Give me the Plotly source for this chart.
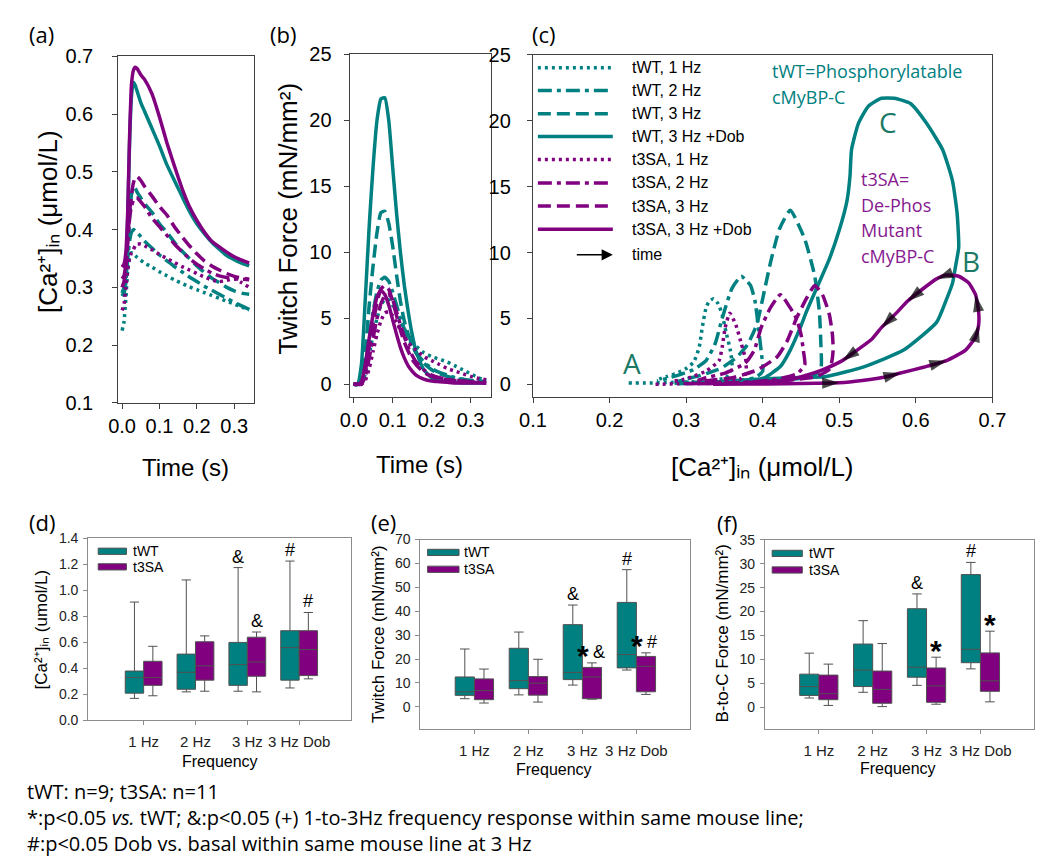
import plotly.graph_objects as go

W, H = 1050, 856


def px(x):
    return x / W


def py(y):
    return 1 - y / H


TEAL = "#008080"
PURPLE = "#800080"
LETTER = "#1b7a66"
AX = "Arial, 'Liberation Sans', sans-serif"
CAL = "'Open Sans', 'Noto Sans', sans-serif"

# ---------------- (a) calcium transients ----------------
t_ca = [0.000, 0.005, 0.010, 0.015, 0.020, 0.025, 0.030, 0.035, 0.040, 0.050, 0.060, 0.080, 0.100,
        0.120, 0.140, 0.160, 0.180, 0.200, 0.220, 0.240, 0.260, 0.280, 0.300, 0.320, 0.340]
ca_tWT_1Hz = [0.225, 0.24, 0.28, 0.33, 0.355, 0.36, 0.358, 0.355, 0.352, 0.347, 0.342, 0.335, 0.327,
              0.32, 0.313, 0.307, 0.301, 0.296, 0.291, 0.286, 0.281, 0.276, 0.271, 0.266, 0.261]
ca_tWT_2Hz = [0.285, 0.29, 0.31, 0.35, 0.38, 0.395, 0.40, 0.398, 0.395, 0.388, 0.38, 0.368, 0.356,
              0.346, 0.336, 0.327, 0.318, 0.31, 0.302, 0.295, 0.288, 0.281, 0.274, 0.268, 0.262]
ca_tWT_3Hz = [0.285, 0.29, 0.31, 0.36, 0.42, 0.46, 0.475, 0.472, 0.465, 0.455, 0.445, 0.43, 0.41,
              0.395, 0.378, 0.363, 0.35, 0.337, 0.326, 0.316, 0.308, 0.30, 0.294, 0.29, 0.288]
ca_tWT_dob = [0.29, 0.30, 0.33, 0.42, 0.55, 0.63, 0.655, 0.65, 0.64, 0.62, 0.605, 0.575, 0.545,
              0.512, 0.485, 0.458, 0.432, 0.41, 0.393, 0.378, 0.366, 0.355, 0.348, 0.342, 0.337]
ca_t3SA_1Hz = [0.26, 0.27, 0.30, 0.33, 0.35, 0.36, 0.365, 0.372, 0.375, 0.375, 0.372, 0.365, 0.357,
               0.35, 0.343, 0.336, 0.33, 0.324, 0.318, 0.313, 0.31, 0.312, 0.315, 0.308, 0.30]
ca_t3SA_2Hz = [0.315, 0.32, 0.34, 0.38, 0.42, 0.44, 0.45, 0.455, 0.455, 0.448, 0.44, 0.42, 0.405,
               0.39, 0.375, 0.362, 0.35, 0.34, 0.332, 0.325, 0.32, 0.317, 0.315, 0.314, 0.313]
ca_t3SA_3Hz = [0.30, 0.31, 0.33, 0.38, 0.43, 0.46, 0.48, 0.49, 0.492, 0.485, 0.475, 0.458, 0.44,
               0.425, 0.405, 0.388, 0.372, 0.358, 0.346, 0.337, 0.33, 0.324, 0.319, 0.316, 0.314]
ca_t3SA_dob = [0.335, 0.34, 0.36, 0.43, 0.56, 0.65, 0.675, 0.681, 0.679, 0.668, 0.66, 0.635, 0.595,
               0.55, 0.51, 0.472, 0.44, 0.416, 0.396, 0.38, 0.37, 0.361, 0.353, 0.347, 0.342]

# ---------------- (b) twitch force ----------------
t_f = [0.00, 0.01, 0.02, 0.03, 0.04, 0.05, 0.06, 0.07, 0.08, 0.09, 0.10, 0.11, 0.12, 0.13, 0.14,
       0.15, 0.16, 0.18, 0.20, 0.22, 0.24, 0.26, 0.28, 0.30, 0.32, 0.34]
f_tWT_1Hz = [0, 0, 0.1, 0.8, 2.2, 3.8, 5.0, 6.0, 6.4, 6.4, 6.0, 5.4, 4.8, 4.2, 3.7, 3.3, 2.9, 2.4,
             2.1, 1.9, 1.7, 1.4, 1.1, 0.8, 0.5, 0.3]
f_tWT_2Hz = [0, 0, 0.2, 1.5, 3.5, 5.5, 7.0, 7.9, 8.1, 7.8, 7.0, 6.0, 5.0, 4.2, 3.5, 2.9, 2.4, 1.7,
             1.2, 0.9, 0.7, 0.5, 0.4, 0.3, 0.25, 0.2]
f_tWT_3Hz = [0, 0, 0.3, 2.5, 6.0, 9.0, 11.5, 13.0, 13.1, 12.2, 10.5, 8.3, 6.3, 4.8, 3.8, 3.0, 2.4,
             1.6, 1.1, 0.8, 0.6, 0.45, 0.35, 0.3, 0.25, 0.2]
f_tWT_dob = [0, 0, 1.5, 6.5, 12.0, 16.5, 20.0, 21.6, 21.7, 20.0, 16.5, 13.0, 10.0, 7.5, 5.5, 3.8,
             2.5, 1.1, 0.5, 0.3, 0.2, 0.15, 0.1, 0.1, 0.1, 0.1]
f_t3SA_1Hz = [0, 0, 0, 0.3, 1.2, 2.5, 3.8, 4.8, 5.4, 5.5, 5.2, 4.7, 4.1, 3.6, 3.2, 2.8, 2.6, 2.1,
              1.8, 1.5, 1.2, 1.0, 0.8, 0.6, 0.45, 0.35]
f_t3SA_2Hz = [0, 0, 0, 0.6, 2.0, 3.5, 5.0, 6.1, 6.7, 6.8, 6.4, 5.5, 4.5, 3.6, 2.8, 2.2, 1.7, 1.1,
              0.7, 0.5, 0.4, 0.3, 0.25, 0.2, 0.15, 0.1]
f_t3SA_3Hz = [0, 0, 0.1, 1.0, 2.8, 4.6, 6.2, 7.2, 7.5, 7.2, 6.3, 5.2, 4.1, 3.2, 2.5, 1.9, 1.5, 0.9,
              0.6, 0.45, 0.35, 0.3, 0.25, 0.2, 0.15, 0.1]
f_t3SA_dob = [0, 0, 0.2, 1.5, 3.5, 5.3, 6.6, 7.1, 6.8, 6.0, 4.9, 3.8, 2.8, 2.0, 1.4, 1.0, 0.7, 0.4,
              0.25, 0.2, 0.15, 0.1, 0.1, 0.1, 0.1, 0.1]

# ---------------- (c) force-calcium loops ----------------
loop_ca_tWT_1Hz = [0.225, 0.25, 0.28, 0.31, 0.335, 0.352, 0.36, 0.358, 0.352, 0.347, 0.342, 0.336,
                   0.33, 0.326, 0.321, 0.317, 0.31, 0.30, 0.29, 0.275, 0.26]
loop_f_tWT_1Hz = [0.1, 0.1, 0.15, 0.2, 0.3, 0.5, 1.2, 2.5, 4.0, 5.3, 6.1, 6.5, 6.3, 5.8, 4.3, 2.8,
                  1.7, 1.2, 0.9, 0.6, 0.3]
loop_ca_tWT_2Hz = [0.285, 0.31, 0.34, 0.37, 0.39, 0.40, 0.398, 0.394, 0.39, 0.384, 0.372, 0.36,
                   0.347, 0.338, 0.326, 0.309, 0.29, 0.275, 0.262]
loop_f_tWT_2Hz = [0.1, 0.15, 0.2, 0.3, 0.5, 1.0, 2.5, 4.5, 6.3, 7.5, 8.2, 7.3, 5.0, 3.1, 1.8, 1.1,
                  0.7, 0.45, 0.25]
loop_ca_tWT_3Hz = [0.285, 0.32, 0.36, 0.40, 0.44, 0.465, 0.476, 0.476, 0.474, 0.468, 0.455, 0.436,
                   0.422, 0.41, 0.40, 0.392, 0.38, 0.365, 0.345, 0.32, 0.30, 0.288]
loop_f_tWT_3Hz = [0.1, 0.15, 0.2, 0.3, 0.4, 0.6, 1.2, 3.0, 5.5, 8.2, 11.0, 13.2, 11.8, 9.2, 6.5,
                  4.5, 3.0, 2.0, 1.2, 0.7, 0.4, 0.2]
loop_ca_tWT_dob = [0.29, 0.33, 0.385, 0.44, 0.4825, 0.533, 0.584, 0.627, 0.639, 0.648, 0.652, 0.656,
                   0.654, 0.648, 0.635, 0.614, 0.593, 0.572, 0.555, 0.538, 0.525, 0.516, 0.514, 0.51,
                   0.50, 0.487, 0.472, 0.457, 0.449, 0.436, 0.423, 0.402, 0.381, 0.36, 0.34]
loop_f_tWT_dob = [0.05, 0.15, 0.37, 0.5, 0.6, 1.35, 2.6, 4.7, 6.3, 7.7, 9.0, 10.4, 12.9, 15.4, 17.8,
                  19.8, 21.3, 21.7, 21.7, 21.1, 19.8, 17.8, 15.8, 13.9, 11.7, 9.5, 7.5, 5.5, 4.3,
                  2.6, 1.35, 0.5, 0.25, 0.1, 0.05]
loop_ca_t3SA_1Hz = [0.26, 0.29, 0.32, 0.35, 0.37, 0.378, 0.378, 0.372, 0.365, 0.357, 0.351, 0.347,
                    0.343, 0.326, 0.309, 0.295, 0.285]
loop_f_t3SA_1Hz = [0.0, 0.05, 0.1, 0.2, 0.4, 0.8, 1.8, 3.1, 4.5, 5.4, 4.3, 2.8, 1.8, 1.0, 0.6, 0.35,
                   0.25]
loop_ca_t3SA_2Hz = [0.315, 0.35, 0.39, 0.42, 0.445, 0.455, 0.453, 0.45, 0.444, 0.436, 0.423, 0.41,
                    0.398, 0.389, 0.377, 0.351, 0.326, 0.315]
loop_f_t3SA_2Hz = [0.05, 0.1, 0.2, 0.4, 0.8, 1.5, 2.6, 3.8, 5.0, 5.8, 6.8, 5.8, 4.3, 2.6, 1.6, 0.86,
                   0.5, 0.3]
loop_ca_t3SA_3Hz = [0.30, 0.35, 0.40, 0.44, 0.47, 0.488, 0.492, 0.491, 0.487, 0.478, 0.468, 0.457,
                    0.444, 0.432, 0.419, 0.393, 0.36, 0.33, 0.315]
loop_f_t3SA_3Hz = [0.05, 0.1, 0.2, 0.35, 0.6, 1.2, 2.6, 3.8, 5.3, 6.8, 7.5, 6.5, 5.0, 3.3, 2.1, 1.1,
                   0.5, 0.3, 0.2]
loop_ca_t3SA_dob = [0.335, 0.38, 0.43, 0.47, 0.50, 0.53, 0.563, 0.58, 0.61, 0.64, 0.665, 0.678,
                    0.682, 0.682, 0.678, 0.669, 0.656, 0.64, 0.627, 0.606, 0.589, 0.576, 0.555,
                    0.542, 0.521, 0.504, 0.478, 0.455, 0.436, 0.41, 0.393, 0.37, 0.351, 0.34]
loop_f_t3SA_dob = [0.0, 0.02, 0.05, 0.08, 0.12, 0.3, 0.6, 0.86, 1.3, 1.8, 2.6, 3.6, 4.5, 5.5, 6.8,
                   7.7, 8.2, 8.3, 8.0, 7.1, 6.3, 5.5, 4.3, 3.4, 2.5, 1.8, 1.1, 0.65, 0.37, 0.2, 0.12,
                   0.05, 0.02, 0.0]
time_arrow_idx = [4, 7, 9, 12, 14, 18, 20, 22, 25]

# ---------------- (d)-(f) box statistics: [low, q1, median, q3, high] ----------------
freq_cats = ["1 Hz", "2 Hz", "3 Hz", "3 Hz Dob"]
ca_box_tWT = [[0.17, 0.21, 0.33, 0.38, 0.91], [0.22, 0.24, 0.37, 0.51, 1.08],
              [0.225, 0.27, 0.43, 0.60, 1.175], [0.25, 0.31, 0.56, 0.69, 1.225]]
ca_box_t3SA = [[0.19, 0.27, 0.33, 0.455, 0.57], [0.225, 0.31, 0.42, 0.605, 0.65],
               [0.22, 0.34, 0.45, 0.64, 0.68], [0.32, 0.345, 0.545, 0.69, 0.83]]
tf_box_tWT = [[3.4, 4.8, 6.3, 12.5, 24.2], [5.0, 7.6, 11.0, 24.5, 31.3],
              [9.1, 11.4, 14.4, 34.4, 42.6], [15.4, 16.3, 21.9, 43.7, 57.4]]
tf_box_t3SA = [[1.6, 3.0, 6.8, 11.7, 15.8], [2.0, 4.9, 9.9, 12.65, 19.9],
               [3.2, 3.4, 12.5, 16.5, 18.4], [5.2, 6.3, 17.0, 21.1, 22.6]]
btc_box_tWT = [[1.9, 2.45, 4.3, 6.9, 11.3], [3.1, 4.3, 7.75, 13.2, 18.1],
               [4.55, 6.25, 8.35, 20.6, 23.7], [8.0, 9.3, 12.1, 27.75, 30.3]]
btc_box_t3SA = [[0.35, 1.55, 2.8, 6.7, 9.0], [0.1, 0.8, 3.7, 7.55, 13.3],
                [0.6, 1.0, 4.45, 8.2, 10.45], [1.1, 3.3, 5.5, 11.35, 15.9]]
ca_marks_tWT = ["", "", "&", "#"]
ca_marks_t3SA = ["", "", "&", "#"]
tf_marks_tWT = ["", "", "&", "#"]
tf_marks_t3SA = ["", "", "*&", "*#"]
btc_marks_tWT = ["", "", "&", "#"]
btc_marks_t3SA = ["", "", "*", "*"]

# ---------------- styles ----------------
DOT = "3px,4px"
DASHDOT = "14px,5px,4px,5px"
DASH = "13px,6px"
SOLID = "solid"
LW = 3.5

series = [
    ("tWT, 1 Hz", TEAL, DOT, ca_tWT_1Hz, f_tWT_1Hz, loop_ca_tWT_1Hz, loop_f_tWT_1Hz),
    ("tWT, 2 Hz", TEAL, DASHDOT, ca_tWT_2Hz, f_tWT_2Hz, loop_ca_tWT_2Hz, loop_f_tWT_2Hz),
    ("tWT, 3 Hz", TEAL, DASH, ca_tWT_3Hz, f_tWT_3Hz, loop_ca_tWT_3Hz, loop_f_tWT_3Hz),
    ("tWT, 3 Hz +Dob", TEAL, SOLID, ca_tWT_dob, f_tWT_dob, loop_ca_tWT_dob, loop_f_tWT_dob),
    ("t3SA, 1 Hz", PURPLE, DOT, ca_t3SA_1Hz, f_t3SA_1Hz, loop_ca_t3SA_1Hz, loop_f_t3SA_1Hz),
    ("t3SA, 2 Hz", PURPLE, DASHDOT, ca_t3SA_2Hz, f_t3SA_2Hz, loop_ca_t3SA_2Hz, loop_f_t3SA_2Hz),
    ("t3SA, 3 Hz", PURPLE, DASH, ca_t3SA_3Hz, f_t3SA_3Hz, loop_ca_t3SA_3Hz, loop_f_t3SA_3Hz),
    ("t3SA, 3 Hz +Dob", PURPLE, SOLID, ca_t3SA_dob, f_t3SA_dob, loop_ca_t3SA_dob, loop_f_t3SA_dob),
]

fig = go.Figure()

for name, col, dash, ca, fo, lca, lfo in series:
    ln = dict(color=col, width=LW, dash=dash, shape="spline", smoothing=0.5)
    fig.add_trace(go.Scatter(x=t_ca, y=ca, mode="lines", line=ln, name=name, showlegend=False,
                             xaxis="x", yaxis="y"))
    fig.add_trace(go.Scatter(x=t_f, y=fo, mode="lines", line=ln, name=name, showlegend=False,
                             xaxis="x2", yaxis="y2"))
    fig.add_trace(go.Scatter(x=lca, y=lfo, mode="lines", line=ln, name=name, showlegend=False,
                             xaxis="x3", yaxis="y3"))

# arrowheads along the t3SA +Dob loop (direction of time)
arr_x, arr_y, arr_s = [], [], []
for i in time_arrow_idx:
    arr_x += [loop_ca_t3SA_dob[i - 1], loop_ca_t3SA_dob[i]]
    arr_y += [loop_f_t3SA_dob[i - 1], loop_f_t3SA_dob[i]]
    arr_s += [0, 18]
fig.add_trace(go.Scatter(x=arr_x, y=arr_y, mode="markers", showlegend=False, hoverinfo="skip",
                         marker=dict(symbol="arrow", size=arr_s, angleref="previous", color="black",
                                     line=dict(width=0)),
                         xaxis="x3", yaxis="y3"))

# box plots
BOXGAP = 0.29
BOXW = (1 - BOXGAP) / 2
box_panels = [
    ("x4", "y4", ca_box_tWT, ca_box_t3SA, ca_marks_tWT, ca_marks_t3SA),
    ("x5", "y5", tf_box_tWT, tf_box_t3SA, tf_marks_tWT, tf_marks_t3SA),
    ("x6", "y6", btc_box_tWT, btc_box_t3SA, btc_marks_tWT, btc_marks_t3SA),
]
annotations = []
for xa, ya, b_wt, b_sa, m_wt, m_sa in box_panels:
    for grp, col, stats, marks, sgn in (("tWT", TEAL, b_wt, m_wt, -1), ("t3SA", PURPLE, b_sa, m_sa, 1)):
        fig.add_trace(go.Box(
            x=freq_cats, lowerfence=[s[0] for s in stats], q1=[s[1] for s in stats],
            median=[s[2] for s in stats], q3=[s[3] for s in stats],
            upperfence=[s[4] for s in stats], name=grp, offsetgroup=grp,
            fillcolor=col, line=dict(color="#505050", width=1), whiskerwidth=0.5,
            boxpoints=False, showlegend=False, xaxis=xa, yaxis=ya, hoverinfo="skip"))
        for i, mk in enumerate(marks):
            if not mk:
                continue
            xc = i + sgn * BOXW / 2
            top = stats[i][4]
            other = mk.replace("*", "")
            if "*" in mk:
                annotations.append(dict(
                    x=xc, y=top, xref=xa, yref=ya, text="<b>*</b>", showarrow=False,
                    yanchor="middle", xanchor=("right" if other else "center"),
                    xshift=(-1 if other else 0), yshift=7,
                    font=dict(family=AX, size=30, color="black")))
            if other:
                annotations.append(dict(
                    x=xc, y=top, xref=xa, yref=ya,
                    text=other.replace("&", "&amp;"), showarrow=False, yanchor="middle",
                    xanchor=("left" if "*" in mk else "center"),
                    xshift=(-1 if "*" in mk else 0), yshift=11,
                    font=dict(family=AX, size=18, color="black")))

top_ax = dict(showline=True, mirror=True, linecolor="#404040", linewidth=1.3, ticks="outside",
              ticklen=5, tickcolor="#404040", showgrid=False, zeroline=False,
              tickfont=dict(family=AX, size=20, color="black"))
bot_ax = dict(showline=True, mirror=True, linecolor="#8c8c8c", linewidth=1, ticks="outside",
              ticklen=4, tickcolor="#8c8c8c", showgrid=False, zeroline=False,
              tickfont=dict(family=AX, size=14, color="#222"))

layout = dict(
    width=W, height=H, margin=dict(l=0, r=0, t=0, b=0), paper_bgcolor="white",
    plot_bgcolor="white", showlegend=False, boxmode="group", boxgap=BOXGAP, boxgroupgap=0,
    xaxis=dict(top_ax, domain=[px(99), px(238)], range=[-0.01, 0.352], tickvals=[0, 0.1, 0.2, 0.3],
               tickformat=".1f", anchor="y", ticklabelstandoff=0),
    yaxis=dict(top_ax, domain=[py(394), py(38.3)], range=[0.1, 0.7], dtick=0.1, tickformat=".1f",
               anchor="x", ticklabelstandoff=15),
    xaxis2=dict(top_ax, domain=[px(336.7), px(481.7)], range=[-0.01, 0.352],
                tickvals=[0, 0.1, 0.2, 0.3], tickformat=".1f", anchor="y2", ticklabelstandoff=0),
    yaxis2=dict(top_ax, domain=[py(388), py(36)], range=[-0.96, 25], dtick=5, anchor="x2",
                ticklabelstandoff=8),
    xaxis3=dict(top_ax, domain=[px(525), px(997)], range=[0.1, 0.7], dtick=0.1, tickformat=".1f",
                anchor="y3", ticklabelstandoff=0),
    yaxis3=dict(top_ax, domain=[py(388), py(36.7)], range=[-0.96, 25], dtick=5, anchor="x3",
                ticklabelstandoff=12),
    xaxis4=dict(bot_ax, domain=[px(68), px(338)], range=[-1.07, 4.0], anchor="y4",
                type="category", tickfont=dict(family=AX, size=15, color="#222"),
                ticklabelstandoff=4),
    yaxis4=dict(bot_ax, domain=[py(720), py(533)], range=[0, 1.4], dtick=0.2, tickformat=".1f",
                anchor="x4", ticklabelstandoff=2),
    xaxis5=dict(bot_ax, domain=[px(409.3), px(686.7)], range=[-1.0, 4.0], anchor="y5",
                type="category", tickfont=dict(family=AX, size=15, color="#222"),
                ticklabelstandoff=4),
    yaxis5=dict(bot_ax, domain=[py(728.3), py(534.3)], range=[-9.1, 70], tickvals=list(range(0, 71, 10)),
                anchor="x5", ticklabelstandoff=2),
    xaxis6=dict(bot_ax, domain=[px(763.3), px(1040)], range=[-1.0, 4.0], anchor="y6",
                type="category", tickfont=dict(family=AX, size=15, color="#222"),
                ticklabelstandoff=4),
    yaxis6=dict(bot_ax, domain=[py(728.3), py(534.7)], range=[-4.5, 35], tickvals=list(range(0, 36, 5)),
                anchor="x6", ticklabelstandoff=2),
)
fig.update_layout(**layout)


def note(x, y, text, size, family=AX, color="black", xanchor="center", angle=0):
    annotations.append(dict(x=px(x), y=py(y), xref="paper", yref="paper", text=text,
                            showarrow=False, xanchor=xanchor, yanchor="middle", textangle=angle,
                            font=dict(family=family, size=size, color=color)))


CA_TITLE = "[Ca\u00b2\u207a]\u1d62\u2099 (\u03bcmol/L)"
MNMM = "(mN/mm\u00b2)"
# panel labels
for lab, x, y in (("(a)", 20, 15), ("(b)", 268, 15), ("(c)", 536, 15),
                  ("(d)", 21, 516), ("(e)", 371, 516), ("(f)", 724, 517)):
    note(x, y, lab, 22, family=CAL)
# axis titles (top)
note(26, 208, CA_TITLE, 26, angle=-90)
note(168, 460, "Time (s)", 24)
note(273, 205, "Twitch Force " + MNMM, 26, angle=-90)
note(408, 457, "Time (s)", 24)
note(761, 460, CA_TITLE, 26)
# axis titles (bottom)
note(20, 626, "[Ca\u00b2\u207a]\u1d62\u2099 (umol/L)", 17, angle=-90)
note(203, 762, "Frequency", 16)
note(367, 631, "Twitch Force " + MNMM, 17, angle=-90)
note(547, 770, "Frequency", 16)
note(720, 631, "B-to-C Force " + MNMM, 17, angle=-90)
note(900, 769, "Frequency", 16)

# legend of panel (c)
shapes = []
rows = [50, 73.3, 97.3, 120.7, 144.3, 168.3, 192, 215.7]
for (name, col, dash, *_), ry in zip(series, rows):
    shapes.append(dict(type="line", xref="paper", yref="paper", x0=px(530), x1=px(607),
                       y0=py(ry), y1=py(ry), line=dict(color=col, width=LW, dash=dash)))
    note(625, ry, name, 16, xanchor="left")
note(625, 242, "time", 16, xanchor="left")
annotations.append(dict(x=px(607), y=py(242), xref="paper", yref="paper", ax=-38, ay=0,
                        text=" ", showarrow=True, arrowhead=2, arrowsize=1.4, arrowwidth=1.6,
                        arrowcolor="black", font=dict(size=2)))

# text inside (c)
note(768, 53, "tWT=Phosphorylatable", 18, family=CAL, color=TEAL, xanchor="left")
note(768, 80, "cMyBP-C", 18, family=CAL, color=TEAL, xanchor="left")
for txt, y in (("t3SA=", 164), ("De-Phos", 191), ("Mutant", 217), ("cMyBP-C", 243)):
    note(860, y, txt, 18, family=CAL, color="#86198f", xanchor="left")
note(627, 353, "A", 28, family=CAL, color=LETTER)
note(975, 248, "B", 28, family=CAL, color=LETTER)
note(890, 106, "C", 28, family=CAL, color=LETTER)

# box legends
for (x0, x1, ytw, yts, xt) in ((78.3, 107.3, 546.3, 562.3, 112),
                              (416.7, 449, 547.5, 564.8, 452),
                              (770.7, 801.7, 548.5, 565.5, 806)):
    for yy, col, lab in ((ytw, TEAL, "tWT"), (yts, PURPLE, "t3SA")):
        shapes.append(dict(type="rect", xref="paper", yref="paper", x0=px(x0), x1=px(x1),
                           y0=py(yy + 3.2), y1=py(yy - 3.2), fillcolor=col,
                           line=dict(color="#505050", width=1)))
        note(xt, yy, lab, 14, xanchor="left")

# footer
note(3, 793, "tWT: n=9; t3SA: n=11", 20, family=CAL, xanchor="left")
note(3, 820, "*:p&lt;0.05 <i>vs.</i> tWT; &amp;:p&lt;0.05 (+) 1-to-3Hz frequency response within same mouse line;",
     20, family=CAL, xanchor="left")
note(3, 846, "#:p&lt;0.05 Dob vs. basal within same mouse line at 3 Hz", 20, family=CAL,
     xanchor="left")

fig.update_layout(annotations=annotations, shapes=shapes)
fig.write_html("out.html")
